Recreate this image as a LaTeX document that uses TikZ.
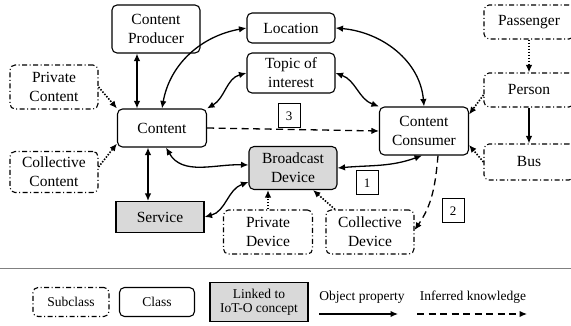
\documentclass[tikz,border=0pt]{standalone}
\usepackage{fontspec}
\setmainfont{Liberation Serif}
\usetikzlibrary{arrows.meta}
\definecolor{linkgray}{RGB}{217,217,217}

\tikzset{
  classbox/.style={draw, rounded corners=5pt, line width=1.1pt, minimum width=88pt,
    align=center, inner sep=1pt, font=\fontsize{15.5}{19}\selectfont},
  subclassbox/.style={classbox, dash pattern=on 5pt off 2.5pt on 1pt off 2.5pt},
  linkedbox/.style={classbox, rounded corners=0pt, fill=linkgray},
  numbox/.style={draw, line width=1pt, minimum width=22pt, minimum height=24pt,
    inner sep=1pt, font=\fontsize{13}{15}\selectfont},
  legendtext/.style={font=\fontsize{13.5}{14}\selectfont},
  objprop/.style={line width=1.3pt, -{Latex[length=7.5pt,width=6.5pt]}},
  biprop/.style={line width=1.3pt, {Latex[length=7.5pt,width=6.5pt]}-{Latex[length=7.5pt,width=6.5pt]}},
  inferred/.style={objprop, dash pattern=on 7pt off 4.5pt},
  subof/.style={objprop, line width=1.6pt, dash pattern=on 1.5pt off 1.5pt}
}

\begin{document}
\begin{tikzpicture}[x=1pt, y=1pt]
  \useasboundingbox (0,0) rectangle (571,-326);

  % classes
  \node[classbox, minimum height=48pt] (producer) at (156,-29) {Content\\Producer};
  \node[classbox, minimum height=30pt] (location) at (291,-28) {Location};
  \node[classbox, minimum height=40pt] (topic) at (291,-73) {Topic of\\interest};
  \node[classbox, minimum width=89pt, minimum height=38pt] (content) at (162,-128) {Content};
  \node[classbox, minimum width=89pt, minimum height=48pt] (consumer) at (424,-131) {Content\\Consumer};
  \node[classbox, fill=linkgray, minimum height=43pt] (broadcast) at (293,-168) {Broadcast\\Device};
  \node[linkedbox, minimum height=31pt] (service) at (160,-217) {Service};

  % subclasses
  \node[subclassbox, minimum height=44pt] (privcontent) at (54,-87) {Private\\Content};
  \node[subclassbox, minimum height=41pt] (collcontent) at (54,-172) {Collective\\Content};
  \node[subclassbox, minimum width=90pt, minimum height=34pt] (passenger) at (529,-22) {Passenger};
  \node[subclassbox, minimum width=90pt, minimum height=34pt] (person) at (529,-90) {Person};
  \node[subclassbox, minimum width=90pt, minimum height=36pt] (bus) at (529,-162) {Bus};
  \node[subclassbox, minimum width=89pt, minimum height=44pt] (privdevice) at (268,-232) {Private\\Device};
  \node[subclassbox, minimum height=44pt] (colldevice) at (370,-232) {Collective\\Device};

  % numbered markers
  \node[numbox] (num3) at (289,-116) {3};
  \node[numbox] (num1) at (367,-183) {1};
  \node[numbox] (num2) at (453,-211) {2};

  % object properties
  \draw[biprop] ([xshift=-19pt]producer.south) -- ([xshift=-19pt]producer.south |- content.north);
  \draw[biprop] (content.north) to[out=80, in=190] (location.west);
  \draw[biprop] (content.north east) to[out=30, in=195] (topic.west);
  \draw[biprop] (location.east) to[out=-5, in=95] (consumer.north);
  \draw[biprop] (topic.east) to[out=-20, in=160] (consumer.north west);
  \draw[biprop] ([xshift=4pt]content.south) to[out=-60, in=178] ([yshift=3pt]broadcast.west);
  \draw[biprop] ([xshift=-14pt]content.south) -- ([xshift=-14pt]content.south |- service.north);
  \draw[biprop] (service.east) to[out=15, in=200] ([yshift=-14pt]broadcast.west);
  \draw[biprop] (broadcast.east) to[out=5, in=200] ([xshift=-2pt]consumer.south);
  \draw[objprop] (person) -- (bus);

  % inferred knowledge
  \draw[inferred] (content.east) -- (consumer.west);
  \draw[inferred] ([xshift=14pt]consumer.south) to[out=-95, in=55] ([yshift=2pt]colldevice.east);

  % subclass links
  \draw[subof] (privcontent.east) -- (content.north west);
  \draw[subof] ([yshift=5pt]collcontent.east) -- ([yshift=4pt]content.south west);
  \draw[subof] (passenger) -- (person);
  \draw[subof] ([yshift=-5pt]person.west) -- ([yshift=-8pt]consumer.north east);
  \draw[subof] (bus.west) -- ([yshift=-14pt]consumer.east);
  \draw[subof] (privdevice.north) -- (privdevice.north |- broadcast.south);
  \draw[subof] ([xshift=-35pt]colldevice.north) -- ([xshift=20pt]broadcast.south);

  % separator
  \draw[gray, line width=0.8pt] (0,-268) -- (571,-268);

  % legend
  \node[subclassbox, legendtext, minimum width=76pt, minimum height=29pt] (legsub) at (71,-302) {Subclass};
  \node[classbox, legendtext, minimum width=75pt, minimum height=29pt] (legclass) at (157,-302) {Class};
  \node[linkedbox, legendtext, minimum width=98pt, minimum height=39pt] (leglinked) at (259,-302) {Linked to\\IoT-O concept};
  \node[legendtext] (legobj) at (362,-297) {Object property};
  \node[legendtext] (leginf) at (473,-297) {Inferred knowledge};
  \coordinate (objstart) at (319,-314);
  \coordinate (objend) at (398,-314);
  \coordinate (infstart) at (417,-314);
  \coordinate (infend) at (527,-314);
  \draw[objprop] (objstart) -- (objend);
  \draw[inferred] (infstart) -- (infend);
\end{tikzpicture}
\end{document}
